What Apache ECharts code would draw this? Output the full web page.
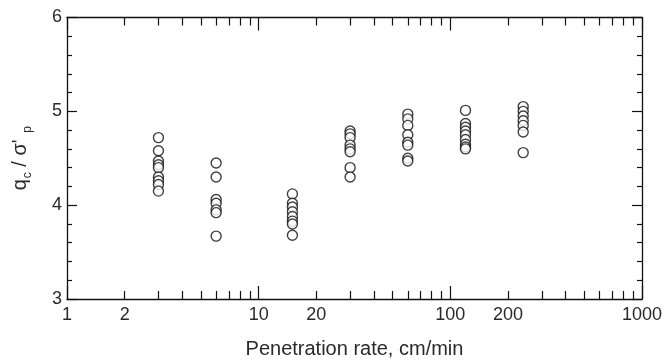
<!DOCTYPE html>
<html>
<head>
<meta charset="utf-8">
<script src="https://cdn.jsdelivr.net/npm/echarts@6/dist/echarts.min.js"></script>
<style>
  html, body { margin: 0; padding: 0; background: #fff; }
  #main { width: 665px; height: 364px; }
</style>
</head>
<body>
<div id="main"></div>
<script>
// penetration rates (cm/min) of each test group
const rates = [3, 6, 15, 30, 60, 120, 240]
// qc / sigma'p read for each group
const ratio3 = [4.72, 4.58, 4.47, 4.43, 4.40, 4.30, 4.26, 4.22, 4.15]
const ratio6 = [4.45, 4.30, 4.06, 4.02, 3.95, 3.92, 3.67]
const ratio15 = [4.12, 4.02, 3.98, 3.93, 3.88, 3.83, 3.80, 3.68]
const ratio30 = [4.79, 4.76, 4.72, 4.64, 4.60, 4.57, 4.40, 4.30]
const ratio60 = [4.97, 4.92, 4.85, 4.75, 4.67, 4.64, 4.50, 4.47]
const ratio120 = [5.01, 4.87, 4.83, 4.79, 4.75, 4.70, 4.65, 4.62, 4.60]
const ratio240 = [5.05, 5.00, 4.95, 4.90, 4.85, 4.78, 4.56]
const groups = [ratio3, ratio6, ratio15, ratio30, ratio60, ratio120, ratio240]

// axis ticks / labels
const xLabels = [1, 2, 10, 20, 100, 200, 1000]
const xMajor = [1, 10, 100, 1000]
const xMinor = [2, 3, 4, 5, 6, 7, 8, 9, 20, 30, 40, 50, 60, 70, 80, 90, 200, 300, 400, 500, 600, 700, 800, 900]

const points = []
groups.forEach((vals, i) => {
  vals.forEach(v => points.push([rates[i], v]))
})

const font = 'Liberation Sans, Arial, sans-serif'
const ink = '#111'
const textColor = '#2a2a2a'

const xAxisBase = (position, ticks, len, showLine, showLabel) => ({
  type: 'log',
  logBase: 10,
  min: 1,
  max: 1000,
  position: position,
  axisLine: { show: showLine, onZero: false, lineStyle: { color: ink, width: 1.3 } },
  axisTick: { show: true, inside: true, length: len, customValues: ticks, lineStyle: { color: ink, width: 1.2 } },
  axisLabel: showLabel
    ? {
        show: true,
        customValues: xLabels,
        margin: 7,
        color: textColor,
        fontSize: 18,
        fontFamily: font,
        formatter: v => String(Math.round(v)),
      }
    : { show: false },
  splitLine: { show: false },
  minorTick: { show: false },
})

const myChart = echarts.init(document.getElementById('main'), null, { renderer: 'canvas' })
myChart.setOption({
  animation: false,
  backgroundColor: '#fff',
  grid: { left: 67, right: 23, top: 17.5, bottom: 61, containLabel: false },
  xAxis: [
    Object.assign(xAxisBase('bottom', xMajor, 13, true, true), {
      name: 'Penetration rate, cm/min',
      nameLocation: 'middle',
      nameGap: 40,
      nameTextStyle: { color: textColor, fontSize: 20, fontFamily: font },
    }),
    xAxisBase('bottom', xMinor, 8, false, false),
    xAxisBase('top', xMajor, 13, true, false),
    xAxisBase('top', xMinor, 8, false, false),
  ],
  yAxis: [
    {
      type: 'value',
      min: 3,
      max: 6,
      interval: 1,
      position: 'left',
      name: '{m|q}{s|c}{m| / σ\' }{s|p}',
      nameLocation: 'middle',
      nameGap: 33,
      nameTextStyle: {
        color: textColor,
        fontFamily: font,
        rich: {
          m: { fontSize: 20, fontFamily: font, color: textColor, lineHeight: 28, verticalAlign: 'middle' },
          s: { fontSize: 12, fontFamily: font, color: textColor, verticalAlign: 'bottom', padding: [0, 0, 0, 1] },
        },
      },
      axisLine: { show: true, lineStyle: { color: ink, width: 1.3 } },
      axisTick: { show: true, inside: true, length: 10, lineStyle: { color: ink, width: 1.2 } },
      minorTick: { show: true, splitNumber: 5, length: 5, lineStyle: { color: ink, width: 1.2 } },
      axisLabel: { margin: 5, color: textColor, fontSize: 18, fontFamily: font },
      splitLine: { show: false },
    },
    {
      type: 'value',
      min: 3,
      max: 6,
      interval: 1,
      position: 'right',
      axisLine: { show: true, lineStyle: { color: ink, width: 1.3 } },
      axisTick: { show: true, inside: true, length: 10, lineStyle: { color: ink, width: 1.2 } },
      minorTick: { show: true, splitNumber: 5, length: 5, lineStyle: { color: ink, width: 1.2 } },
      axisLabel: { show: false },
      splitLine: { show: false },
    },
  ],
  series: [
    {
      type: 'scatter',
      xAxisIndex: 0,
      yAxisIndex: 0,
      data: points,
      symbol: 'circle',
      symbolSize: 10,
      itemStyle: { color: '#fff', borderColor: ink, borderWidth: 1.4 },
    },
  ],
})
</script>
</body>
</html>
